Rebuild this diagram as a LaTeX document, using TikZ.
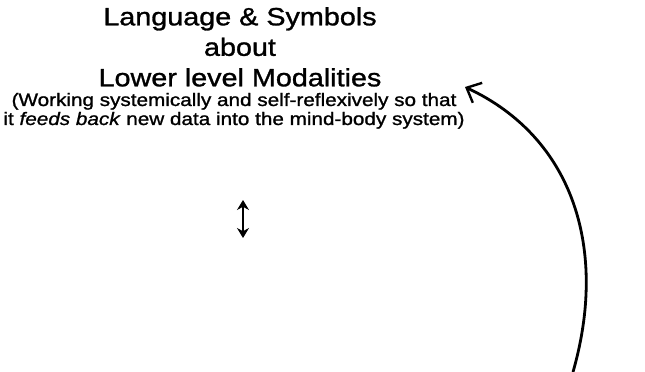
\documentclass[tikz,border=0pt]{standalone}
\usepackage{fontspec}
\setmainfont{Liberation Sans}
\newfontfamily\scanfont{Liberation Sans}[FakeStretch=1.15,FakeBold=1.2]
\usetikzlibrary{arrows.meta,positioning}
\tikzset{
  titletext/.style={align=center,inner sep=0pt,font=\scanfont\fontsize{25}{30.5}\selectfont},
  notetext/.style={align=center,inner sep=0pt,font=\scanfont\fontsize{18}{19}\selectfont},
  feedback/.style={line width=2.8pt,-{Straight Barb[length=12pt,width=22pt,line width=2.4pt]}},
  twoway/.style={line width=1.2pt,{Stealth[length=10pt,width=12pt]}-{Stealth[length=10pt,width=12pt]}}
}
\begin{document}
\begin{tikzpicture}[x=1pt,y=1pt]
%-------------------- frame --------------------
	\useasboundingbox (0,0) rectangle (645,372);
%-------------------- texts --------------------
	\node[titletext,anchor=north] (levels) at (240,365) {Language \& Symbols\\about\\Lower level Modalities};
	\node[notetext,below=6pt of levels,xshift=-6pt] (selfref) {(Working systemically and self-reflexively so that\\it \textit{feeds back} new data into the mind-body system)};
%-------------------- arrows --------------------
	\coordinate (uptip) at (243,172);
	\coordinate (downtip) at (243,134);
	\draw[twoway] (uptip) -- (downtip);

	%loop back to the top
	\coordinate (loopstart) at (573,0);
	\coordinate (looptip) at (465,285);
	\draw[feedback] (loopstart) .. controls (608,122) and (574,234) .. (looptip);
\end{tikzpicture}
\end{document}
